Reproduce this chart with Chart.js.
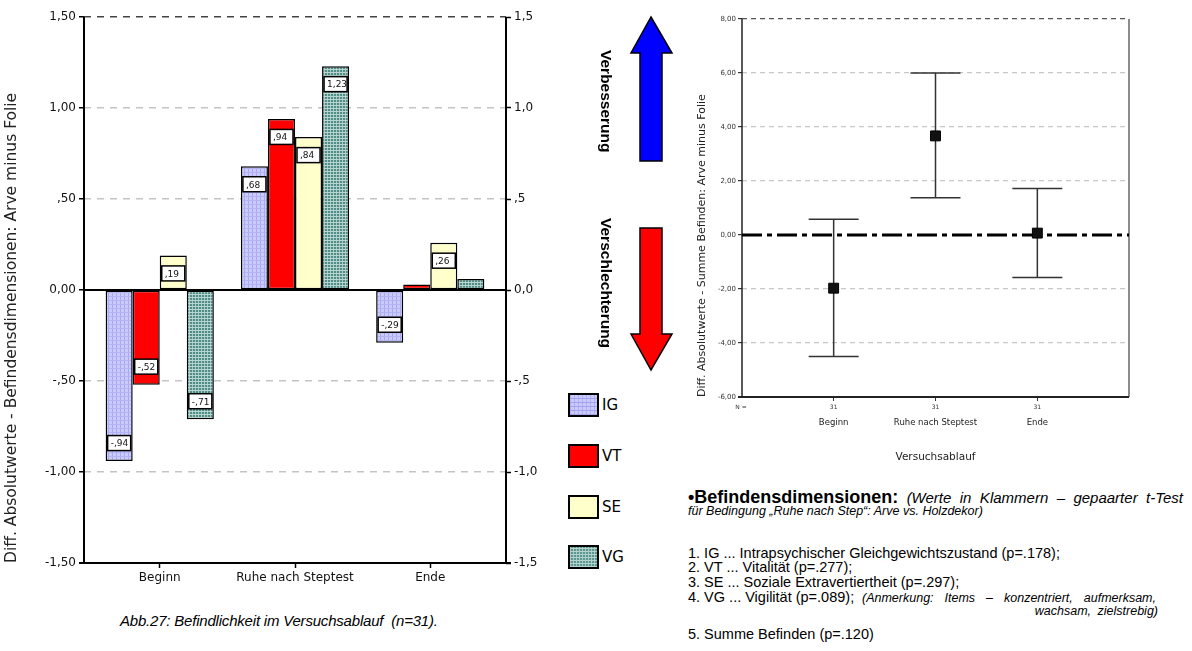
<!DOCTYPE html>
<html>
<head>
<meta charset="utf-8">
<script src="https://cdn.jsdelivr.net/npm/chart.js@4.4.1/dist/chart.umd.min.js"></script>
<style>
    body { margin: 0; width: 1192px; height: 651px; background: #fff; position: relative; overflow: hidden;
           font-family: "Liberation Sans", Arial, sans-serif; color: #000; }
    .abs { position: absolute; }
    #barWrap { left: 0; top: 0; width: 560px; height: 600px; }
    #errWrap { left: 640px; top: 0; width: 552px; height: 470px; }
    .swatch { width: 27px; height: 20px; border: 2px solid #000; left: 568px; }
    .legLabel { left: 602px; font: 15px "DejaVu Sans", sans-serif; line-height: 20px; }
    .vert { writing-mode: vertical-rl; font-weight: bold; font-size: 15.5px; line-height: 15px; }
    .note { left: 688px; white-space: nowrap; line-height: 16px; font-size: 14.5px; }
    .just { white-space: normal; text-align: justify; text-align-last: justify; }
</style>
</head>
<body>

<div id="barWrap" class="abs"><canvas id="barChart"></canvas></div>
<div id="errWrap" class="abs"><canvas id="errChart"></canvas></div>

<!-- legend of the bar chart -->
<div class="abs swatch" style="top:393px; background-color:#c9c9fb;
     background-image: repeating-linear-gradient(0deg, #a4a4ee 0 1px, transparent 1px 4px), repeating-linear-gradient(90deg, #b0b0f2 0 1px, transparent 1px 4px);"></div>
<div class="abs legLabel" style="top:395px;">IG</div>
<div class="abs swatch" style="top:444px; background:#ff0000;"></div>
<div class="abs legLabel" style="top:446px;">VT</div>
<div class="abs swatch" style="top:495px; background:#ffffcc;"></div>
<div class="abs legLabel" style="top:497px;">SE</div>
<div class="abs swatch" style="top:545px; background-color:#5b968f;
     background-image: repeating-linear-gradient(0deg, #b5d3ce 0 1px, transparent 1px 3px), repeating-linear-gradient(90deg, #a6c8c3 0 1px, transparent 1px 3px);"></div>
<div class="abs legLabel" style="top:547px;">VG</div>

<!-- arrows -->
<svg class="abs" style="left:620px; top:0;" width="70" height="380">
    <polygon points="31,17 52,53 42,53 42,161 20,161 20,53 11,53" fill="#0000ff" stroke="#000" stroke-width="1.5"/>
    <polygon points="20,228 42,228 42,334 52,334 31,370 11,334 20,334" fill="#ff0000" stroke="#000" stroke-width="1.5"/>
</svg>
<div class="abs vert" style="left:599px; top:50px;">Verbesserung</div>
<div class="abs vert" style="left:599px; top:218px;">Verschlechterung</div>

<!-- caption -->
<div class="abs" style="left:120px; top:612px; font-style:italic; font-size:15px; letter-spacing:-0.2px;">Abb.27: Befindlichkeit im Versuchsablauf&nbsp; (n=31).</div>

<!-- notes -->
<div class="abs note just" style="top:488px; width:495px; line-height:18px;"><b style="font-size:18px;">•Befindensdimensionen:</b> <i style="font-size:15px;">(Werte in Klammern – gepaarter t-Test</i></div>
<div class="abs note" style="top:503px; font-style:italic; font-size:12.5px;">für Bedingung „Ruhe nach Step“: Arve vs. Holzdekor)</div>
<div class="abs note" style="top:545px;">1. IG ... Intrapsychischer Gleichgewichtszustand (p=.178);</div>
<div class="abs note" style="top:559px;">2. VT ... Vitalität (p=.277);</div>
<div class="abs note" style="top:574px;">3. SE ... Soziale Extravertiertheit (p=.297);</div>
<div class="abs note" style="top:589px;">4. VG ... Vigilität (p=.089);</div>
<div class="abs note just" style="top:590px; left:862px; width:294px; font-style:italic; font-size:12.5px;">(Anmerkung: Items – konzentriert, aufmerksam,</div>
<div class="abs note" style="top:603px; left:auto; right:34px; font-style:italic; font-size:12.5px; word-spacing:3px;">wachsam, zielstrebig)</div>
<div class="abs note" style="top:626px;">5. Summe Befinden (p=.120)</div>

<script>
// Bar chart: Befindensdimensionen
const categories = ['Beginn', 'Ruhe nach Steptest', 'Ende'];
const igValues = [-0.94, 0.68, -0.29];
const vtValues = [-0.52, 0.94, 0.03];
const seValues = [0.19, 0.84, 0.26];
const vgValues = [-0.71, 1.23, 0.06];

// Error bar chart: Summe Befinden
const sumMeans = [-1.97, 3.67, 0.07];
const sumLower = [-4.50, 1.38, -1.57];
const sumUpper = [0.58, 6.00, 1.72];
const sumN = [31, 31, 31];

const tickFont = '"DejaVu Sans", sans-serif';

// German number style: ",50", "-,94", "1,23"
const deNum = (v, dec, keepZero) => {
    let s = Math.abs(v).toFixed(dec).replace('.', ',');
    if (s.startsWith('0,') && !(keepZero && Math.abs(v) < 1e-9)) s = s.slice(1);
    return (v < -1e-9 ? '-' : '') + s;
};

const toPoints = (values) => values.map((v, i) => ({ x: i, y: v }));

// Fill patterns for IG and VG
function makePattern(base, line1, line2, step) {
    const c = document.createElement('canvas');
    c.width = step; c.height = step;
    const g = c.getContext('2d');
    g.fillStyle = base; g.fillRect(0, 0, step, step);
    g.fillStyle = line1; g.fillRect(0, 0, 1, step);
    g.fillStyle = line2; g.fillRect(0, 0, step, 1);
    return g.createPattern(c, 'repeat');
}
const igFill = makePattern('#cacafb', '#a8a8f0', '#b4b4f4', 4);
const vgFill = makePattern('#4f8d86', '#a9cbc6', '#b9d6d1', 3);

// Axis frame and zero line
const barFrame = {
    id: 'barFrame',
    afterDatasetsDraw(chart) {
        const { ctx, chartArea: a } = chart;
        const y0 = chart.scales.y.getPixelForValue(0);
        ctx.save();
        ctx.strokeStyle = '#000';
        ctx.lineWidth = 2;
        ctx.beginPath();
        ctx.moveTo(a.left, a.top); ctx.lineTo(a.left, a.bottom);
        ctx.moveTo(a.right, a.top); ctx.lineTo(a.right, a.bottom);
        ctx.moveTo(a.left - 5, a.bottom); ctx.lineTo(a.right + 5, a.bottom);
        ctx.moveTo(a.left, y0); ctx.lineTo(a.right, y0);
        ctx.stroke();
        ctx.restore();
    }
};

// White value boxes inside the bars
const valueBoxes = {
    id: 'valueBoxes',
    afterDatasetsDraw(chart) {
        const ctx = chart.ctx;
        ctx.save();
        chart.data.datasets.forEach((ds, di) => {
            chart.getDatasetMeta(di).data.forEach((bar, i) => {
                const v = ds.data[i].y;
                if (Math.abs(v) < 0.1) return;
                const w = bar.width - 4, h = 15;
                const cy = v > 0 ? bar.y + 18 : bar.y - 18;
                ctx.fillStyle = '#fff';
                ctx.fillRect(bar.x - w / 2, cy - h / 2, w, h);
                ctx.strokeStyle = '#000';
                ctx.lineWidth = 1.5;
                ctx.strokeRect(bar.x - w / 2, cy - h / 2, w, h);
                ctx.fillStyle = '#111';
                ctx.font = '9px ' + tickFont;
                ctx.textAlign = 'left';
                ctx.textBaseline = 'middle';
                ctx.fillText(deNum(v, 2, false), bar.x - w / 2 + 3, cy + 1);
            });
        });
        ctx.restore();
    }
};

new Chart(document.getElementById('barChart'), {
    type: 'bar',
    data: {
        datasets: [
            { label: 'IG', data: toPoints(igValues), backgroundColor: igFill },
            { label: 'VT', data: toPoints(vtValues), backgroundColor: '#ff0000' },
            { label: 'SE', data: toPoints(seValues), backgroundColor: '#ffffcc' },
            { label: 'VG', data: toPoints(vgValues), backgroundColor: vgFill }
        ]
    },
    options: {
        responsive: true,
        maintainAspectRatio: false,
        animation: false,
        layout: { padding: { top: 17, right: 0, left: 0, bottom: 0 } },
        datasets: {
            bar: { borderColor: '#000', borderWidth: 1.5, borderSkipped: false,
                   categoryPercentage: 0.8, barPercentage: 1.0, yAxisID: 'y' }
        },
        plugins: { legend: { display: false }, tooltip: { enabled: false } },
        scales: {
            x: {
                type: 'linear', min: -0.56, max: 2.56, offset: false,
                afterBuildTicks: (s) => { s.ticks = categories.map((c, i) => ({ value: i })); },
                grid: { offset: false, drawOnChartArea: false, drawTicks: true, tickLength: 5, tickColor: '#000', tickWidth: 1.5 },
                border: { display: false },
                ticks: { autoSkip: false, color: '#111', font: { family: tickFont, size: 12 }, padding: 3, maxRotation: 0,
                         callback: (v) => categories[Math.round(v)] },
                afterFit: (s) => { s.height = 37; }
            },
            y: {
                min: -1.5, max: 1.5,
                ticks: { stepSize: 0.5, color: '#111', font: { family: tickFont, size: 12 }, padding: 3,
                         callback: (v) => deNum(v, 2, true) },
                grid: {
                    color: (c) => Math.abs(c.tick.value - 1.5) < 1e-6 ? '#444'
                        : Math.abs(c.tick.value) < 1e-6 || c.tick.value < -1.49 ? 'rgba(0,0,0,0)' : '#c4c4c4',
                    lineWidth: 1.5, tickLength: 5, tickColor: '#000', tickWidth: 1.5
                },
                border: { display: false, dash: [7, 6] },
                title: { display: true, text: 'Diff. Absolutwerte - Befindensdimensionen: Arve minus Folie',
                         align: 'start', color: '#222', font: { family: tickFont, size: 15.5 }, padding: { top: 3, bottom: 0 } },
                afterFit: (s) => { s.width = 84; }
            },
            y2: {
                position: 'right',
                min: -1.5, max: 1.5,
                ticks: { stepSize: 0.5, color: '#111', font: { family: tickFont, size: 12 }, padding: 3,
                         callback: (v) => deNum(v, 1, true) },
                grid: { drawOnChartArea: false, tickLength: 5, tickColor: '#000', tickWidth: 1.5 },
                border: { display: false },
                afterFit: (s) => { s.width = 54; }
            }
        }
    },
    plugins: [barFrame, valueBoxes]
});

// Error bars, zero reference line and frame of the second chart
const errDecor = {
    id: 'errDecor',
    beforeDatasetsDraw(chart) {
        const { ctx, chartArea: a, scales: { x, y } } = chart;
        ctx.save();
        // frame
        ctx.strokeStyle = '#222';
        ctx.lineWidth = 1.5;
        ctx.beginPath();
        ctx.moveTo(a.left, a.top); ctx.lineTo(a.left, a.bottom);
        ctx.stroke();
        ctx.strokeStyle = '#666';
        ctx.beginPath();
        ctx.moveTo(a.right, a.top); ctx.lineTo(a.right, a.bottom);
        ctx.stroke();
        ctx.strokeStyle = '#222';
        ctx.lineWidth = 2;
        ctx.beginPath();
        ctx.moveTo(a.left - 4, a.bottom); ctx.lineTo(a.right, a.bottom);
        ctx.stroke();
        // error bars
        ctx.strokeStyle = '#333';
        ctx.lineWidth = 1.5;
        sumMeans.forEach((m, i) => {
            const px = x.getPixelForValue(i);
            const yl = y.getPixelForValue(sumLower[i]);
            const yu = y.getPixelForValue(sumUpper[i]);
            ctx.beginPath();
            ctx.moveTo(px, yl); ctx.lineTo(px, yu);
            ctx.moveTo(px - 25, yl); ctx.lineTo(px + 25, yl);
            ctx.moveTo(px - 25, yu); ctx.lineTo(px + 25, yu);
            ctx.stroke();
        });
        // dash-dot zero line
        const y0 = y.getPixelForValue(0);
        ctx.strokeStyle = '#000';
        ctx.lineWidth = 3;
        ctx.setLineDash([20, 5, 5, 5]);
        ctx.beginPath();
        ctx.moveTo(a.left, y0); ctx.lineTo(a.right, y0);
        ctx.stroke();
        ctx.restore();
    },
    afterDraw(chart) {
        const { ctx, chartArea: a, scales: { x } } = chart;
        ctx.save();
        ctx.fillStyle = '#333';
        ctx.font = '6px ' + tickFont;
        ctx.textAlign = 'center';
        ctx.textBaseline = 'middle';
        ctx.fillText('N =', a.left - 1, a.bottom + 10);
        sumN.forEach((n, i) => ctx.fillText(String(n), x.getPixelForValue(i), a.bottom + 10));
        ctx.restore();
    }
};

new Chart(document.getElementById('errChart'), {
    type: 'scatter',
    data: {
        datasets: [{
            label: 'Summe Befinden',
            data: toPoints(sumMeans),
            pointStyle: 'rect',
            pointRadius: 7,
            backgroundColor: '#111',
            borderColor: '#000',
            borderWidth: 1
        }]
    },
    options: {
        responsive: true,
        maintainAspectRatio: false,
        animation: false,
        layout: { padding: { top: 19, right: 63, left: 0, bottom: 0 } },
        plugins: { legend: { display: false }, tooltip: { enabled: false } },
        scales: {
            x: {
                type: 'linear', min: -0.9, max: 2.9,
                afterBuildTicks: (s) => { s.ticks = categories.map((c, i) => ({ value: i })); },
                ticks: { autoSkip: false, color: '#222', font: { family: tickFont, size: 8.5 }, padding: 17,
                         maxRotation: 0, callback: (v) => categories[Math.round(v)] },
                grid: { drawOnChartArea: false, tickLength: 4, tickColor: '#333' },
                border: { display: false },
                title: { display: true, text: 'Versuchsablauf', color: '#222', font: { family: tickFont, size: 10.5 },
                         padding: { top: 0, bottom: 6 } },
                afterFit: (s) => { s.height = 73; }
            },
            y: {
                min: -6, max: 8,
                ticks: { stepSize: 2, color: '#333', font: { family: tickFont, size: 7 }, padding: 2,
                         callback: (v) => deNum(v, 2, true) },
                grid: {
                    color: (c) => c.tick.value === 8 ? '#555'
                        : (c.tick.value === 0 || c.tick.value === -6) ? 'rgba(0,0,0,0)' : '#c8c8c8',
                    lineWidth: 1.2, tickLength: 4, tickColor: '#333'
                },
                border: { display: false, dash: [5, 4] },
                title: { display: true, text: 'Diff. Absolutwerte - Summe Befinden: Arve minus Folie',
                         align: 'start', color: '#222', font: { family: tickFont, size: 11 },
                         padding: { top: 56, bottom: 0 } },
                afterFit: (s) => { s.width = 102; }
            }
        }
    },
    plugins: [errDecor]
});
</script>
</body>
</html>
